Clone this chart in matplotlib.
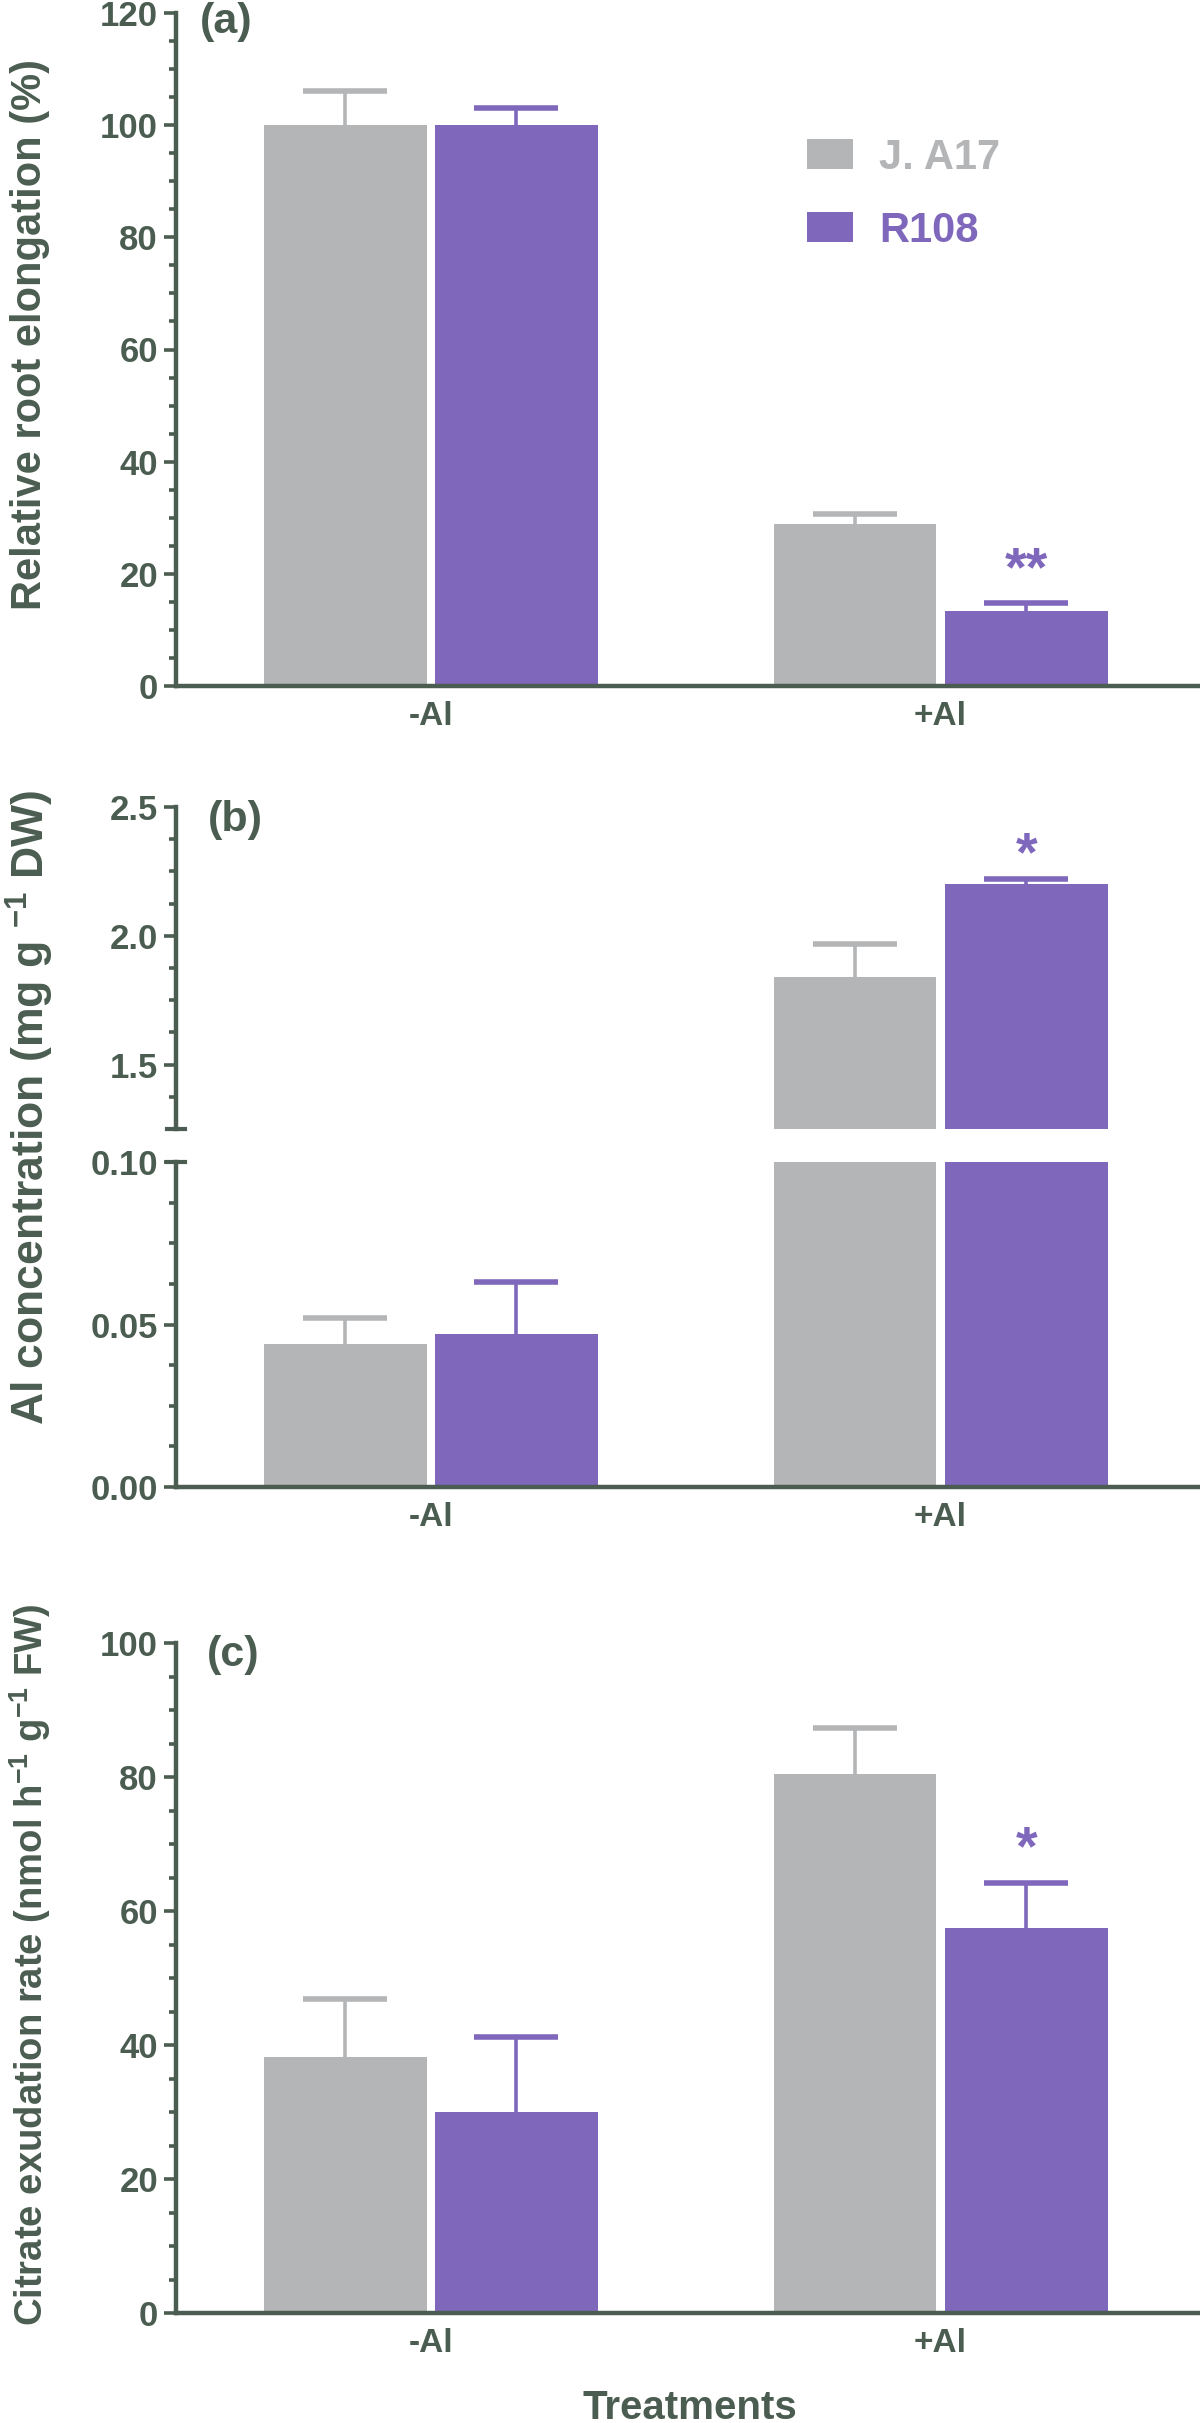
import matplotlib
matplotlib.use('Agg')
import matplotlib.pyplot as plt
from matplotlib.ticker import MultipleLocator, FixedLocator, FormatStrFormatter

plt.rcParams['font.family'] = ['Liberation Sans', 'DejaVu Sans']
plt.rcParams['font.weight'] = 'bold'
plt.rcParams['axes.labelweight'] = 'bold'
plt.rcParams['mathtext.fontset'] = 'custom'
plt.rcParams['mathtext.rm'] = 'Liberation Sans:bold'
plt.rcParams['mathtext.default'] = 'rm'

# data
treatments = ['-Al', '+Al']
genotypes = ['J. A17', 'R108']

root_ja17 = [100.0, 28.9]
root_ja17_se = [6.1, 1.8]
root_r108 = [100.0, 13.3]
root_r108_se = [3.1, 1.5]

al_ja17 = [0.044, 1.84]
al_ja17_se = [0.008, 0.13]
al_r108 = [0.047, 2.20]
al_r108_se = [0.016, 0.02]

cit_ja17 = [38.2, 80.4]
cit_ja17_se = [8.7, 6.9]
cit_r108 = [30.0, 57.5]
cit_r108_se = [11.2, 6.7]

# significance marks (text, treatment index, y position)
sig_a = ('**', 1, 20.5)
sig_b = ('*', 1, 2.31)
sig_c = ('*', 1, 69.0)

gray = '#b4b5b7'
purple = '#7f68bc'
dark = '#4b5d51'
colors = [gray, purple]

W, H = 1200, 2423
fig = plt.figure(figsize=(W / 100, H / 100), dpi=100)

left = 176 / W
width = (1199 - 176) / W
bw = 0.319
off = 0.168
xs = [0, 1]


def make_ax(top_px, bot_px):
    return fig.add_axes([left, 1 - bot_px / H, width, (bot_px - top_px) / H])


def style(ax, bottom=True):
    for s in ['top', 'right']:
        ax.spines[s].set_visible(False)
    ax.spines['left'].set_color(dark)
    ax.spines['left'].set_linewidth(3.2)
    ax.spines['bottom'].set_color(dark)
    ax.spines['bottom'].set_linewidth(3.2)
    if not bottom:
        ax.spines['bottom'].set_visible(False)
    ax.tick_params(axis='y', which='major', length=9, width=2.6, color=dark,
                   labelcolor=dark, labelsize=25, pad=4)
    ax.tick_params(axis='y', which='minor', length=5, width=2.6, color=dark)
    ax.tick_params(axis='x', length=0, labelcolor=dark, labelsize=24, pad=11)
    ax.set_xlim(-0.5, 1.507)
    ax.set_xticks(xs)
    if bottom:
        ax.set_xticklabels(treatments)
    else:
        ax.set_xticklabels([])


def draw(ax, vals, ses):
    handles = []
    for i, (v, e) in enumerate(zip(vals, ses)):
        x = [t + (i * 2 - 1) * off for t in xs]
        b = ax.bar(x, v, width=bw, color=colors[i], linewidth=0, zorder=2)
        handles.append(b)
        eb = ax.errorbar(x, v, yerr=[[0, 0], e], fmt='none', ecolor=colors[i],
                         elinewidth=2.6, capsize=30, capthick=4, zorder=3)
        eb[1][0].set_visible(False)  # no cap at the bar top
    return handles


def star(ax, sig):
    txt, g, y = sig
    ax.text(xs[g] + off, y, txt, color=purple, fontsize=40, ha='center', va='center')


# (a)
ax_a = make_ax(13, 686)
style(ax_a)
bars = draw(ax_a, [root_ja17, root_r108], [root_ja17_se, root_r108_se])
ax_a.set_ylim(0, 120)
ax_a.yaxis.set_major_locator(MultipleLocator(20))
ax_a.yaxis.set_minor_locator(MultipleLocator(5))
star(ax_a, sig_a)
leg = ax_a.legend(bars, genotypes, loc='upper left', bbox_to_anchor=(0.617, 0.815),
                  frameon=False, borderaxespad=0, borderpad=0,
                  handlelength=1.1, handleheight=0.72, handletextpad=0.62,
                  labelspacing=0.8, prop={'size': 30, 'weight': 'bold'})
for t, c in zip(leg.get_texts(), colors):
    t.set_color(c)

# (b) broken axis
ax_bu = make_ax(807, 1129)
ax_bl = make_ax(1162, 1487)
style(ax_bu, bottom=False)
style(ax_bl)
draw(ax_bu, [al_ja17, al_r108], [al_ja17_se, al_r108_se])
draw(ax_bl, [al_ja17, al_r108], [al_ja17_se, al_r108_se])
ax_bu.set_ylim(1.25, 2.5)
ax_bu.yaxis.set_major_locator(FixedLocator([1.5, 2.0, 2.5]))
ax_bu.yaxis.set_minor_locator(MultipleLocator(0.125))
ax_bu.yaxis.set_major_formatter(FormatStrFormatter('%.1f'))
ax_bl.set_ylim(0, 0.10)
ax_bl.yaxis.set_major_locator(MultipleLocator(0.05))
ax_bl.yaxis.set_minor_locator(MultipleLocator(0.0125))
ax_bl.yaxis.set_major_formatter(FormatStrFormatter('%.2f'))
star(ax_bu, sig_b)
ax_bu.plot([-0.009, 0.009], [1.25, 1.25], color=dark, lw=3,
           transform=ax_bu.get_yaxis_transform(), clip_on=False)
ax_bl.plot([-0.009, 0.009], [0.10, 0.10], color=dark, lw=3,
           transform=ax_bl.get_yaxis_transform(), clip_on=False)

# (c)
ax_c = make_ax(1643, 2313)
style(ax_c)
draw(ax_c, [cit_ja17, cit_r108], [cit_ja17_se, cit_r108_se])
ax_c.set_ylim(0, 100)
ax_c.yaxis.set_major_locator(MultipleLocator(20))
ax_c.yaxis.set_minor_locator(MultipleLocator(5))
star(ax_c, sig_c)

# panel letters, axis titles
fig.text(200 / W, 1 - 22 / H, '(a)', fontsize=31, color=dark, ha='left', va='center')
fig.text(208 / W, 1 - 820 / H, '(b)', fontsize=31, color=dark, ha='left', va='center')
fig.text(207 / W, 1 - 1655 / H, '(c)', fontsize=31, color=dark, ha='left', va='center')

fig.text(690 / W, 1 - 2419 / H, 'Treatments', fontsize=29, color=dark,
         ha='center', va='baseline')

fig.text(30 / W, 1 - 335 / H, 'Relative root elongation (%)', fontsize=30,
         color=dark, rotation=90, ha='center', va='center')
fig.text(30 / W, 1 - 1107 / H, 'Al concentration (mg g $^{-1}$ DW)', fontsize=32,
         color=dark, rotation=90, ha='center', va='center')
fig.text(30 / W, 1 - 1965 / H, 'Citrate exudation rate (nmol h$^{-1}$ g$^{-1}$ FW)',
         fontsize=27.5, color=dark, rotation=90, ha='center', va='center')

fig.savefig('out.png', dpi=100)
